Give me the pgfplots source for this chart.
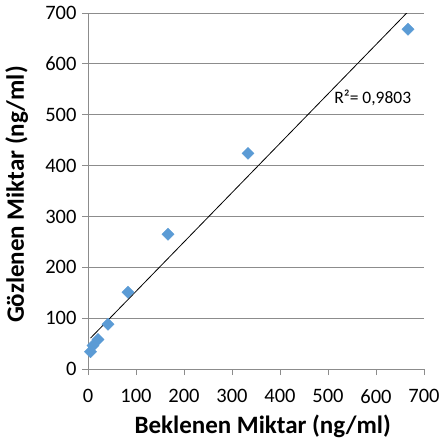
\documentclass[border=0pt]{standalone}
\usepackage{fontspec}
\setmainfont{Carlito}
\usepackage{pgfplots}
\usepackage{pgfplotstable}
\pgfplotsset{compat=1.18}
\definecolor{ptblue}{HTML}{5B9BD5}
\definecolor{gridgray}{HTML}{8C8C8C}
\pgfplotstableread{
x y
5.21 34
10.42 46
20.83 58
41.67 88
83.33 151
166.67 265
333.33 424
666.67 668
}\datatable
\begin{document}
\begin{tikzpicture}
\path[use as bounding box] (-88pt,-75pt) rectangle (352pt,369pt);
\begin{axis}[
  at={(0pt,0pt)}, anchor=south west,
  scale only axis, width=336pt, height=356pt,
  xmin=0, xmax=700, ymin=0, ymax=700,
  xtick={0,100,...,700}, ytick={0,100,...,700},
  axis x line*=bottom, axis y line*=left,
  axis line style={gridgray, line width=0.8pt, -},
  ymajorgrids, grid style={gridgray, line width=0.8pt},
  tick align=outside, major tick length=6pt,
  tick style={gridgray, line width=0.8pt},
  /pgf/number format/assume math mode=true,
  ticklabel style={font=\fontsize{20.5}{22}\selectfont},
  xticklabel style={yshift=-11pt},
  yticklabel style={xshift=-2pt},
  xlabel={Beklenen Miktar (ng/ml)}, ylabel={Gözlenen Miktar (ng/ml)},
  label style={font=\bfseries\fontsize{25}{27}\selectfont},
  xlabel style={at={(axis description cs:0.52,-0.16)}, anchor=center},
  ylabel style={at={(axis description cs:-0.212,0.49)}, anchor=center},
]
\addplot[only marks, mark=square*, mark size=4.3pt, color=ptblue,
  mark options={rotate=45, draw=ptblue, fill=ptblue}] table[x=x, y=y] {\datatable};
\addplot[black, line width=0.8pt, no markers] table[x=x, y={create col/linear regression={y=y}}] {\datatable};
\node[anchor=west, font=\fontsize{17.5}{19}\selectfont] at (axis cs:506,533) {R²= 0,9803};
\end{axis}
\end{tikzpicture}
\end{document}
